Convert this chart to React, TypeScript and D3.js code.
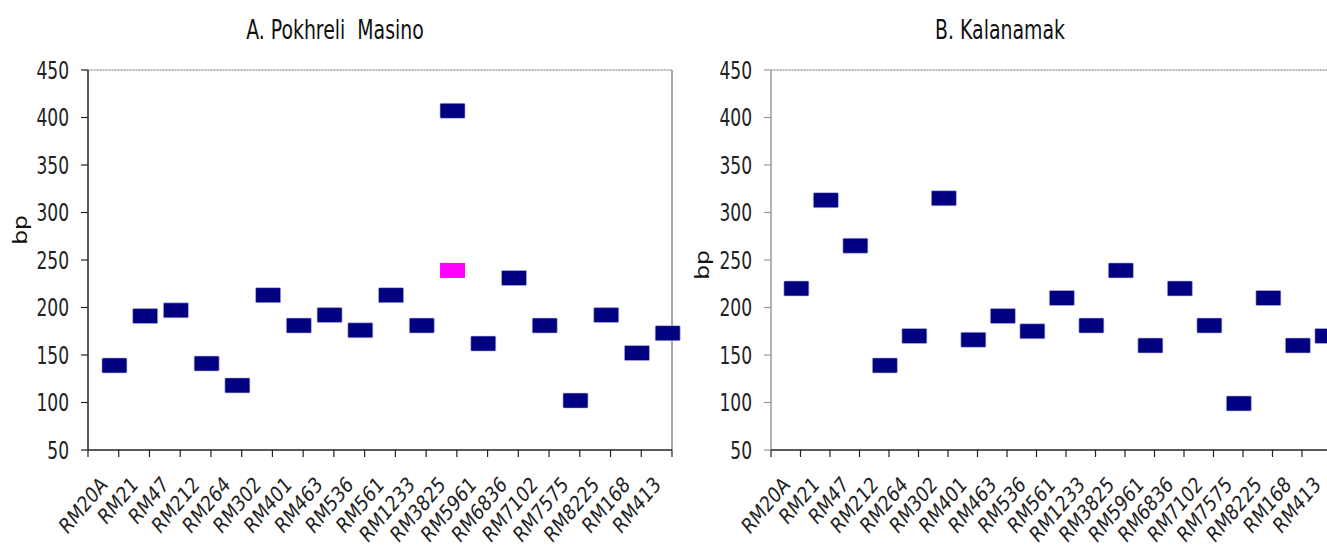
import React, { useEffect, useRef } from 'react'
import * as d3 from 'd3'

const markers = [
  'RM20A', 'RM21', 'RM47', 'RM212', 'RM264', 'RM302', 'RM401', 'RM463', 'RM536', 'RM561',
  'RM1233', 'RM3825', 'RM5961', 'RM6836', 'RM7102', 'RM7575', 'RM8225', 'RM168', 'RM413'
]
// band sizes (bp)
const pokhreliBands = [139, 191, 197, 141, 118, 213, 181, 192, 176, 213, 181, 407, 162, 231, 181, 102, 192, 152, 173]
// second (odd) allele, only at RM3825
const pokhreliExtraMarker = ['RM3825']
const pokhreliExtraBands = [239]
const kalanamakBands = [220, 313, 265, 139, 170, 315, 166, 191, 175, 210, 181, 239, 160, 220, 181, 99, 210, 160, 170]
const yTicks = [50, 100, 150, 200, 250, 300, 350, 400, 450]

const FONT = "'DejaVu Sans Condensed', 'DejaVu Sans', 'Liberation Sans', sans-serif"
// the original picture is stretched vertically, so the text is too
const STRETCH = 1.3

const App = () => {
  const ref = useRef<SVGSVGElement>(null)

  useEffect(() => {
    const svg = d3.select(ref.current)
    svg.selectAll('*').remove()

    function drawPanel(opts: any) {
      const { x0, x1, title, titleX, bpX, bpY, bands, extraCats, extraVals, axisColor } = opts
      const top = 70
      const bottom = 450
      const g = svg.append('g')

      const xScale = d3.scaleBand().domain(markers).range([x0, x1])
      const yScale = d3.scaleLinear().domain([50, 450]).range([bottom, top])
      const bw = xScale.bandwidth()

      // frame: gray top/right, axes
      g.append('line')
        .attr('x1', x0).attr('x2', Math.min(x1, 1327))
        .attr('y1', top).attr('y2', top)
        .attr('stroke', '#9a9a9a').attr('stroke-width', 1.5)
        .attr('stroke-dasharray', '1 0.5')
      if (x1 < 1327) {
        g.append('line')
          .attr('x1', x1).attr('x2', x1)
          .attr('y1', top).attr('y2', bottom)
          .attr('stroke', '#8a8a8a').attr('stroke-width', 1.5)
      }
      g.append('line')
        .attr('x1', x0).attr('x2', x0)
        .attr('y1', top).attr('y2', bottom)
        .attr('stroke', axisColor).attr('stroke-width', 1.5)
      g.append('line')
        .attr('x1', x0).attr('x2', x1)
        .attr('y1', bottom).attr('y2', bottom)
        .attr('stroke', '#222').attr('stroke-width', 1.5)

      // y ticks + labels
      g.selectAll('.yt')
        .data(yTicks)
        .enter()
        .append('line')
        .attr('x1', x0 - 7).attr('x2', x0)
        .attr('y1', (d) => yScale(d)).attr('y2', (d) => yScale(d))
        .attr('stroke', axisColor).attr('stroke-width', 1.2)
      g.selectAll('.yl')
        .data(yTicks)
        .enter()
        .append('text')
        .attr('transform', (d) => `translate(${x0 - 19}, ${yScale(d) + 8.5}) scale(1, ${STRETCH})`)
        .attr('text-anchor', 'end')
        .style('font-family', FONT)
        .style('font-size', '19px')
        .attr('fill', '#222')
        .text((d) => d)

      // x ticks at band edges
      const edges = markers.map((m) => xScale(m) as number).concat([x1])
      g.selectAll('.xt')
        .data(edges)
        .enter()
        .append('line')
        .attr('x1', (d) => d).attr('x2', (d) => d)
        .attr('y1', bottom).attr('y2', bottom + 7)
        .attr('stroke', '#222').attr('stroke-width', 1.2)

      // rotated marker names
      g.selectAll('.xl')
        .data(markers)
        .enter()
        .append('text')
        .attr('transform', (d) => {
          const cx = (xScale(d) as number) + bw / 2 + 5
          return `translate(${cx}, ${bottom + 36}) scale(1, 1.2) rotate(-45)`
        })
        .attr('text-anchor', 'end')
        .style('font-family', FONT)
        .style('font-size', '18.5px')
        .attr('fill', '#222')
        .text((d) => d)

      // band marks
      const cx = (m: string) => (xScale(m) as number) + bw * 0.86
      g.selectAll('.bm')
        .data(markers.map((m, i) => [m, bands[i]]))
        .enter()
        .append('rect')
        .attr('x', (d: any) => cx(d[0]) - 12.5)
        .attr('y', (d: any) => yScale(d[1]) - 7.5)
        .attr('width', 25)
        .attr('height', 15)
        .attr('rx', 1)
        .attr('fill', '#000080')
        .attr('stroke', '#b8b8e6')
        .attr('stroke-width', 0.6)
      if (extraCats) {
        g.selectAll('.em')
          .data(extraCats.map((m: string, i: number) => [m, extraVals[i]]))
          .enter()
          .append('rect')
          .attr('x', (d: any) => cx(d[0]) - 12.5)
          .attr('y', (d: any) => yScale(d[1]) - 7.5)
          .attr('width', 25)
          .attr('height', 15)
          .attr('fill', '#ff00ff')
      }

      // titles
      g.append('text')
        .attr('transform', `translate(${titleX}, 39) scale(1, ${STRETCH})`)
        .attr('text-anchor', 'middle')
        .style('font-family', FONT)
        .style('font-size', '21px')
        .style('white-space', 'pre')
        .attr('fill', '#111')
        .text(title)
      g.append('text')
        .attr('transform', `translate(${bpX}, ${bpY}) scale(1, ${STRETCH}) rotate(-90)`)
        .attr('text-anchor', 'middle')
        .style('font-family', FONT)
        .style('font-size', '20px')
        .attr('fill', '#111')
        .text('bp')
    }

    drawPanel({
      x0: 88,
      x1: 672,
      title: 'A. Pokhreli  Masino',
      titleX: 335,
      bpX: 27,
      bpY: 230,
      bands: pokhreliBands,
      extraCats: pokhreliExtraMarker,
      extraVals: pokhreliExtraBands,
      axisColor: '#222'
    })
    drawPanel({
      x0: 771,
      x1: 771 + 29.5 * markers.length,
      title: 'B. Kalanamak',
      titleX: 1000,
      bpX: 709,
      bpY: 265,
      bands: kalanamakBands,
      axisColor: '#999'
    })
  }, [])

  return (
    <svg
      ref={ref}
      width={1327}
      height={555}
      style={{ position: 'absolute', left: 0, top: 0, background: '#fff' }}
    />
  )
}

export default App
